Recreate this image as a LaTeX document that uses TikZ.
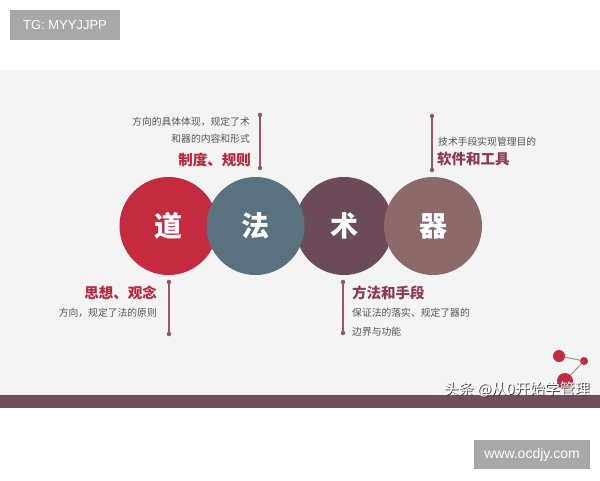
\documentclass[tikz,border=0pt]{standalone}
\usepackage{fontspec}
\setmainfont{Liberation Sans}
\newfontfamily\cjk{Noto Sans CJK SC}
\definecolor{cdao}{HTML}{C42B40}
\definecolor{cfa}{HTML}{5A7280}
\definecolor{cshu}{HTML}{6B4A5A}
\definecolor{cqi}{HTML}{8D6A6A}
\definecolor{bar}{HTML}{6E4F5B}
\definecolor{lineC}{HTML}{9A5566}
\definecolor{headR}{HTML}{B8283F}
\definecolor{headM}{HTML}{8E3A55}
\definecolor{txt}{HTML}{555555}
\definecolor{boxg}{HTML}{A8A8A8}
\definecolor{bg}{HTML}{F4F4F4}
\begin{document}
\begin{tikzpicture}[x=1pt,y=-1pt,
  big/.style={circle,minimum size=98pt,inner sep=0pt,text=white,font=\cjk\bfseries\fontsize{28}{28}\selectfont},
  small/.style={font=\cjk\fontsize{9.8}{9.8}\selectfont,text=txt,inner sep=0pt},
  head/.style={font=\cjk\bfseries\fontsize{14.5}{14.5}\selectfont,inner sep=0pt},
  dotc/.style={circle,fill=lineC,minimum size=4.5pt,inner sep=0pt},
  vline/.style={draw=lineC,line width=1.2pt},
  gbox/.style={fill=boxg,text=white,inner sep=0pt},
  mol/.style={circle,fill=cdao,inner sep=0pt}]
\useasboundingbox (0,0) rectangle (600,480);
\fill[white] (0,0) rectangle (600,480);
\fill[bg] (0,70) rectangle (600,395);
\fill[bar] (0,395) rectangle (600,408);
\draw[pink!40,line width=0.6pt] (0,394.5) -- (600,394.5);
% top label
\node[gbox,minimum width=110pt,minimum height=30pt,font=\fontsize{13}{13}\selectfont] (tg) at (65,25) {TG: MYYJJPP};
\node[gbox,minimum width=116pt,minimum height=29pt,font=\fontsize{14}{14}\selectfont] (www) at (532,454.5) {www.ocdjy.com};
% circles
\node[big,fill=cdao] (dao) at (168.5,226) {道};
\node[big,fill=cshu] (shu) at (344,226) {术};
\node[big,fill=cfa] (fa) at (255.5,226) {法};
\node[big,fill=cqi] (qi) at (433,226) {器};
% connector lines
\node[dotc] (a1) at (260,115) {};
\node[dotc] (a2) at (260,168) {};
\draw[vline] (a1) -- (a2);
\node[dotc] (b1) at (432,116) {};
\node[dotc] (b2) at (432,170) {};
\draw[vline] (b1) -- (b2);
\node[dotc] (c1) at (169,282) {};
\node[dotc] (c2) at (169,334) {};
\draw[vline] (c1) -- (c2);
\node[dotc] (d1) at (343,282) {};
\node[dotc] (d2) at (343,333) {};
\draw[vline] (d1) -- (d2);
% texts
\node[small,anchor=east] (t1) at (250,122) {方向的具体体现，规定了术};
\node[small,anchor=east] (t2) at (250,139) {和器的内容和形式};
\node[head,anchor=east,text=headR] (h1) at (251,160) {制度、规则};
\node[small,anchor=west] (t3) at (438,142) {技术手段实现管理目的};
\node[head,anchor=west,text=headM] (h2) at (437,159) {软件和工具};
\node[head,anchor=east,text=headR] (h3) at (157,293) {思想、观念};
\node[small,anchor=east] (t4) at (157,313) {方向，规定了法的原则};
\node[head,anchor=west,text=headM] (h4) at (352,293) {方法和手段};
\node[small,anchor=west] (t5) at (352,313) {保证法的落实、规定了器的};
\node[small,anchor=west] (t6) at (352,332) {边界与功能};
% molecule
\node[mol,minimum size=12pt] (m1) at (559,356) {};
\node[mol,minimum size=8pt] (m2) at (584,361) {};
\node[mol,minimum size=16pt] (m3) at (565,381) {};
\draw[black!40,line width=1pt] (m1) -- (m2);
\draw[black!40,line width=1pt] (m2) -- (m3);
% watermark
\node[font=\cjk\fontsize{15}{15}\selectfont,text=black!75,inner sep=0pt,anchor=east] (wm0) at (591,390) {头条 @从0开始学管理};
\node[font=\cjk\fontsize{15}{15}\selectfont,text=white,inner sep=0pt,anchor=east] (wm) at (590,389) {头条 @从0开始学管理};
\end{tikzpicture}
\end{document}
